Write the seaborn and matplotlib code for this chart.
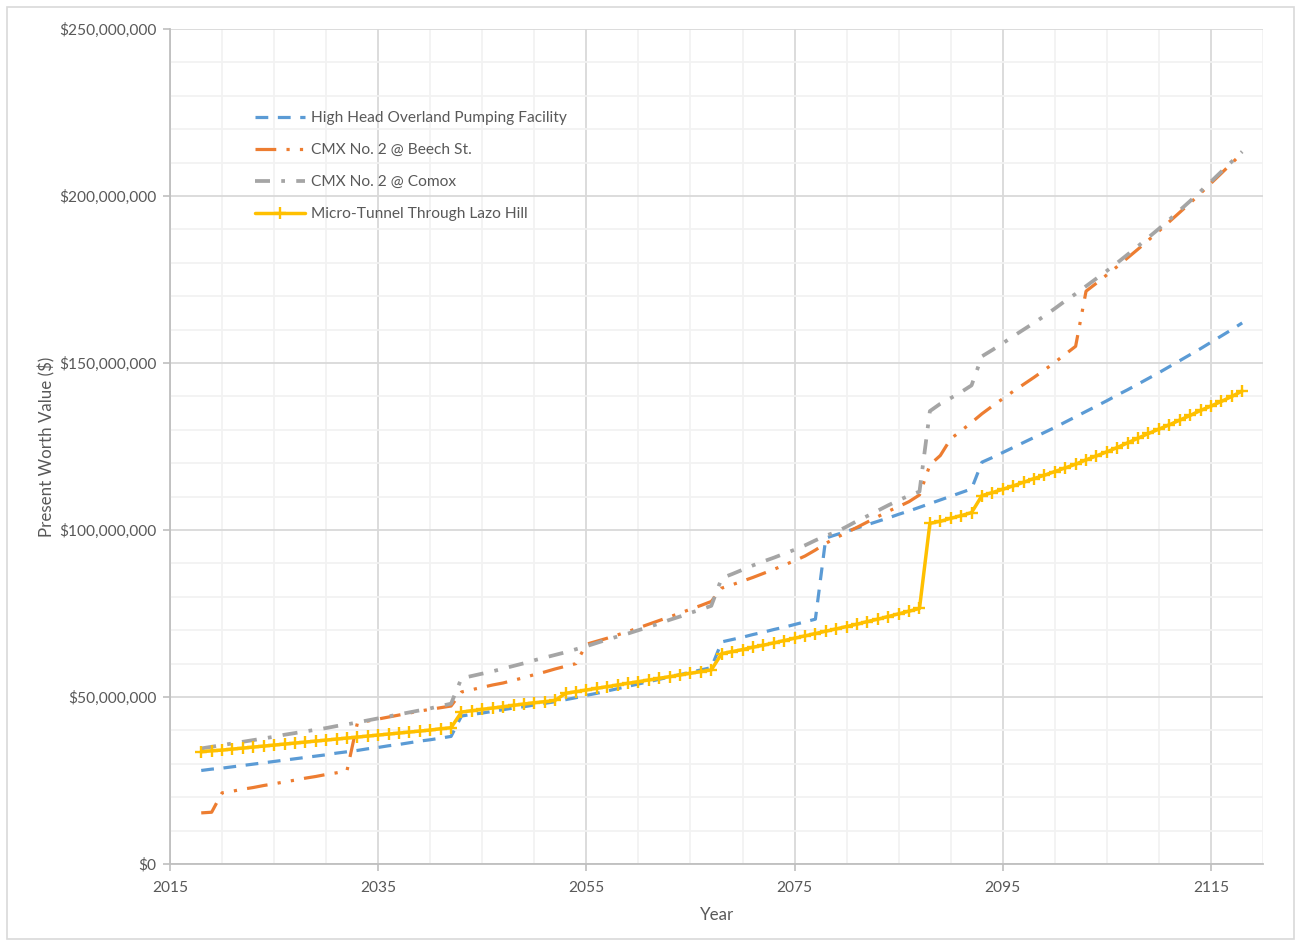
import numpy as np
import pandas as pd
import matplotlib
matplotlib.use("Agg")
import matplotlib.pyplot as plt
from matplotlib.ticker import MultipleLocator, FuncFormatter
from matplotlib.patches import Rectangle
import seaborn as sns

# Present worth (millions of $) by year for each alternative
years = list(range(2018, 2119))

high_head = [
    28.0, 28.4, 28.7, 29.1, 29.5, 29.9, 30.3, 30.7, 31.1, 31.5, 31.9, 32.3, 32.7,
    33.2, 33.6, 34.0, 34.5, 34.9, 35.4, 35.8, 36.3, 36.8, 37.2, 37.7, 38.2,
    44.3, 44.8, 45.2, 45.7, 46.2, 46.7, 47.1, 47.6, 48.1, 48.6, 49.2, 49.8, 50.5,
    51.1, 51.8, 52.5, 53.2, 53.9, 54.6, 55.3, 56.0, 56.7, 57.4, 58.1, 58.8,
    66.5, 67.2, 67.9, 68.7, 69.4, 70.2, 70.9, 71.7, 72.5, 73.3,
    97.6, 98.6, 99.6, 100.6, 101.6, 102.6, 103.6, 104.7, 105.7, 106.8, 107.9,
    109.0, 110.1, 111.2, 112.3,
    120.3, 121.7, 123.2, 124.7, 126.2, 127.7, 129.2, 130.7, 132.3, 133.9, 135.5,
    137.1, 138.7, 140.4, 142.0, 143.7, 145.4, 147.1, 148.9, 150.7, 152.5, 154.3,
    156.2, 158.1, 160.0, 162.0,
]

beech_st = [
    15.3, 15.5,
    21.3, 21.8, 22.4, 22.9, 23.5, 24.0, 24.6, 25.1, 25.7, 26.2, 26.8, 27.3, 27.9,
    42.2, 42.8, 43.4, 44.0, 44.6, 45.2, 45.8, 46.3, 46.8, 47.3,
    51.5, 52.2, 52.9, 53.6, 54.2, 55.0, 55.8, 56.7, 57.5, 58.4, 59.2, 60.0,
    65.8, 66.7, 67.6, 68.6, 69.6, 70.7, 71.8, 72.9, 74.0, 75.1, 76.3, 77.4, 78.6,
    82.6, 83.6, 84.7, 85.8, 87.0, 88.2, 89.5, 90.8, 92.2, 94.0, 96.0, 97.7, 99.2,
    100.8, 102.4, 104.0, 105.6, 107.0, 108.5, 110.5,
    119.5, 122.3, 127.3, 129.7, 132.2, 134.8, 137.1, 139.3, 141.5, 143.6, 145.7,
    147.9, 150.2, 152.6, 155.0,
    171.5, 173.9, 176.4, 178.9, 181.5, 184.1, 186.8, 189.5, 192.3, 195.1, 197.9,
    200.8, 203.8, 206.8, 209.8, 212.9,
]

comox = [
    34.6, 35.1, 35.6, 36.1, 36.6, 37.1, 37.6, 38.1, 38.7, 39.2, 39.7, 40.2, 40.7,
    41.3, 41.8, 42.4, 43.0, 43.6, 44.2, 44.8, 45.4, 46.0, 46.6, 47.3, 48.0,
    55.6, 56.3, 57.0, 57.7, 58.5, 59.3, 60.1, 61.0, 61.8, 62.6, 63.4, 64.3, 65.2,
    66.2, 67.2, 68.1, 69.0, 70.0, 71.0, 72.0, 73.1, 74.1, 75.2, 76.2, 77.3,
    85.6, 86.8, 88.1, 89.4, 90.6, 91.7, 92.9, 94.1, 95.4, 96.9, 98.3, 99.4, 101.0,
    102.7, 104.2, 105.8, 107.4, 108.9, 110.3, 111.5,
    135.6, 137.8, 139.5, 141.3, 143.3,
    152.0, 153.9, 155.9, 158.0, 160.0, 162.0, 164.1, 166.3, 168.6, 170.7, 173.0,
    175.3, 177.6, 180.0, 182.5, 185.0, 187.6, 190.2, 192.9, 195.7, 198.5, 201.4,
    204.3, 207.3, 210.3, 213.3,
]

micro_tunnel = [
    33.6, 33.9, 34.1, 34.4, 34.7, 35.0, 35.3, 35.6, 35.9, 36.2, 36.5, 36.8, 37.1,
    37.4, 37.7, 38.0, 38.3, 38.6, 38.9, 39.2, 39.5, 39.8, 40.1, 40.5, 40.8,
    45.5, 45.9, 46.3, 46.7, 47.1, 47.5, 47.9, 48.3, 48.6, 49.0,
    51.1, 51.6, 52.1, 52.6, 53.1, 53.6, 54.1, 54.6, 55.1, 55.6, 56.1, 56.6, 57.1,
    57.6, 58.1,
    63.0, 63.6, 64.2, 64.9, 65.5, 66.2, 66.9, 67.6, 68.3, 69.0, 69.7, 70.4, 71.1,
    71.8, 72.6, 73.3, 74.1, 74.9, 75.7, 76.5,
    102.0, 102.6, 103.5, 104.3, 105.2,
    110.3, 111.2, 112.2, 113.2, 114.3, 115.4, 116.4, 117.5, 118.6, 119.7, 121.0,
    122.2, 123.4, 124.7, 126.1, 127.5, 128.9, 130.2, 131.5, 132.9, 134.3, 135.8,
    137.1, 138.5, 140.0, 141.6,
]

series_labels = [
    "High Head Overland Pumping Facility",
    "CMX No. 2 @ Beech St.",
    "CMX No. 2 @ Comox",
    "Micro-Tunnel Through Lazo Hill",
]

x_ticks = [2015, 2035, 2055, 2075, 2095, 2115]

df = pd.DataFrame({
    "Year": years,
    series_labels[0]: np.array(high_head) * 1e6,
    series_labels[1]: np.array(beech_st) * 1e6,
    series_labels[2]: np.array(comox) * 1e6,
    series_labels[3]: np.array(micro_tunnel) * 1e6,
})

sns.set_theme(style="white")
plt.rcParams["font.family"] = ["Lato", "DejaVu Sans"]

TEXT = "#595959"
W, H = 1299, 943
fig = plt.figure(figsize=(W / 100, H / 100), dpi=100)
fig.patch.set_facecolor("white")
ax = fig.add_axes([170 / W, 1 - 864 / H, (1263 - 170) / W, (864 - 29) / H])

line_styles = [
    dict(color="#5B9BD5", linewidth=2.3, linestyle=(0, (4, 3))),
    dict(color="#ED7D31", linewidth=2.3, linestyle=(0, (6.5, 3.2, 1, 3.2, 1, 3.2))),
    dict(color="#A5A5A5", linewidth=2.7, linestyle=(0, (4, 3, 1, 3))),
    dict(color="#FFC000", linewidth=2.5, linestyle="-", marker="+",
         markersize=8.5, markeredgewidth=1.7, markeredgecolor="#FFC000"),
]

for name, style in zip(series_labels, line_styles):
    sns.lineplot(data=df, x="Year", y=name, ax=ax, label=name,
                 errorbar=None, sort=False, **style)

ax.set_xlim(2015, 2120)
ax.set_ylim(0, 250e6)
ax.xaxis.set_major_locator(MultipleLocator(20))
ax.xaxis.set_minor_locator(MultipleLocator(5))
ax.yaxis.set_major_locator(MultipleLocator(50e6))
ax.yaxis.set_minor_locator(MultipleLocator(10e6))
ax.set_xticks(x_ticks)
ax.yaxis.set_major_formatter(FuncFormatter(lambda v, p: f"${v:,.0f}"))

ax.set_axisbelow(True)
ax.grid(True, which="major", color="#D9D9D9", linewidth=1.3)
ax.grid(True, which="minor", color="#F2F2F2", linewidth=1.3)

for side in ("top", "right"):
    ax.spines[side].set_visible(False)
for side in ("left", "bottom"):
    ax.spines[side].set_color("#BFBFBF")
    ax.spines[side].set_linewidth(1.3)

ax.tick_params(axis="both", which="major", bottom=True, left=True, length=5,
               width=1.2, color="#BFBFBF", labelcolor=TEXT, labelsize=11.2)
ax.tick_params(axis="x", which="major", pad=7)
ax.tick_params(axis="y", which="major", pad=5)
ax.tick_params(axis="both", which="minor", length=0)

ax.set_xlabel("Year", fontsize=12.2, color=TEXT)
ax.set_ylabel("Present Worth Value ($)", fontsize=12.2, color=TEXT)
ax.xaxis.set_label_coords(0.5005, -0.0515)
ax.yaxis.set_label_coords(-0.105, 0.5)

leg = ax.legend(loc="upper left", bbox_to_anchor=(255 / W, 1 - 111 / H),
                bbox_transform=fig.transFigure, frameon=False, fontsize=11.2,
                handlelength=3.2, handletextpad=0.38, labelspacing=1.16,
                borderpad=0, borderaxespad=0)
for t in leg.get_texts():
    t.set_color(TEXT)

fig.patches.append(Rectangle((7 / W, 4 / H), (1294 - 7) / W, (939 - 7) / H,
                             transform=fig.transFigure, fill=False,
                             edgecolor="#D9D9D9", linewidth=1.2))

fig.savefig("out.png", dpi=100)
